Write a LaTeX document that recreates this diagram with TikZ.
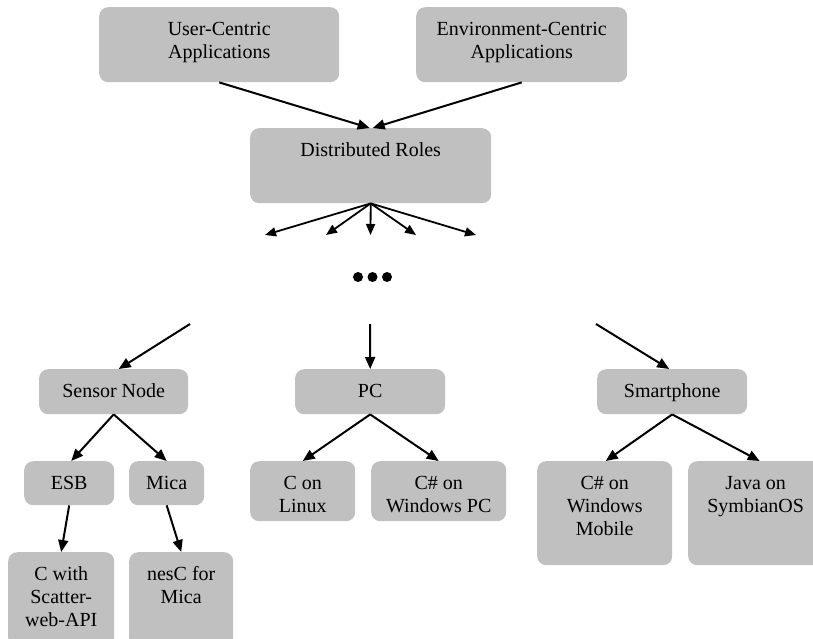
\documentclass[tikz,border=0pt]{standalone}
\usepackage{fontspec}
\setmainfont{LiberationSerif}[Extension=.ttf, UprightFont=*-Regular, BoldFont=*-Bold]
\usetikzlibrary{arrows.meta}
\definecolor{boxgray}{RGB}{192,192,192}
\newcommand\bxt[3]{\parbox[c][#2][t]{#1}{\centering\rule{0pt}{28.5pt}#3}}
\begin{document}
\begin{tikzpicture}[x=1pt,y=-1pt,
  bx/.style={anchor=north west, inner sep=0pt, fill=boxgray, rounded corners=9pt,
    font=\fontsize{20}{23}\selectfont},
  thick arrow/.style={line width=2pt, -{Triangle[length=12pt,width=10pt]}},
  fan arrow/.style={line width=1.8pt, -{Triangle[length=11pt,width=9pt]}}]
\useasboundingbox (0,0) rectangle (813,638);
\clip (0,0) rectangle (813,638);
% boxes
\node[bx] (uc) at (99,7) {\bxt{240pt}{75pt}{User-Centric\\Applications}};
\node[bx] (ec) at (416,7) {\bxt{211pt}{75pt}{Environment-Centric\\Applications}};
\node[bx] (dr) at (250,128) {\bxt{241pt}{75pt}{Distributed Roles}};
\node[bx] (sn) at (39,369) {\bxt{149pt}{45pt}{Sensor Node}};
\node[bx] (pc) at (295,369) {\bxt{150pt}{45pt}{PC}};
\node[bx] (sp) at (597,369) {\bxt{150pt}{45pt}{Smartphone}};
\node[bx] (esb) at (24,461) {\bxt{90pt}{44pt}{ESB}};
\node[bx] (mica) at (129,461) {\bxt{75pt}{44pt}{Mica}};
\node[bx] (cl) at (250,461) {\bxt{105pt}{60pt}{C on\\Linux}};
\node[bx] (cw) at (371,461) {\bxt{135pt}{60pt}{C\# on\\Windows PC}};
\node[bx] (cm) at (537,461) {\bxt{135pt}{104pt}{C\# on\\Windows\\Mobile}};
\node[bx] (js) at (688,461) {\bxt{135pt}{104pt}{Java on\\SymbianOS}};
\node[bx] (cs) at (8,552) {\bxt{106pt}{95pt}{C with\\Scatter-\\web-API}};
\node[bx] (nc) at (129,552) {\bxt{104pt}{95pt}{nesC for\\Mica}};
% free ends
\coordinate (f1) at (265,235);
\coordinate (f2) at (326,235);
\coordinate (f3) at (370.5,235);
\coordinate (f4) at (416,235);
\coordinate (f5) at (476,235);
\coordinate (l1) at (190,324);
\coordinate (l2) at (370,324);
\coordinate (l3) at (596,324);
% connectors
\draw[thick arrow] (uc.south) -- ([xshift=-1pt]dr.north);
\draw[thick arrow] (ec.south) -- ([xshift=2pt]dr.north);
\foreach \f in {f1,f2,f3,f4,f5} \draw[fan arrow] (dr.south) -- (\f);
\draw[thick arrow] (l1) -- ([xshift=5pt]sn.north);
\draw[thick arrow] (l2) -- (pc.north);
\draw[thick arrow] (l3) -- ([xshift=-3pt]sp.north);
\draw[thick arrow] (sn.south) -- ([xshift=2pt]esb.north);
\draw[thick arrow] (sn.south) -- (mica.north);
\draw[thick arrow] (esb.south) -- (cs.north);
\draw[thick arrow] (mica.south) -- (nc.north);
\draw[thick arrow] (pc.south) -- (cl.north);
\draw[thick arrow] (pc.south) -- (cw.north);
\draw[thick arrow] (sp.south) -- ([xshift=1pt]cm.north);
\draw[thick arrow] (sp.south) -- ([xshift=4pt]js.north);
% ellipsis
\foreach \x in {358,372.5,387} \fill (\x,277) circle (5pt);
\end{tikzpicture}
\end{document}
